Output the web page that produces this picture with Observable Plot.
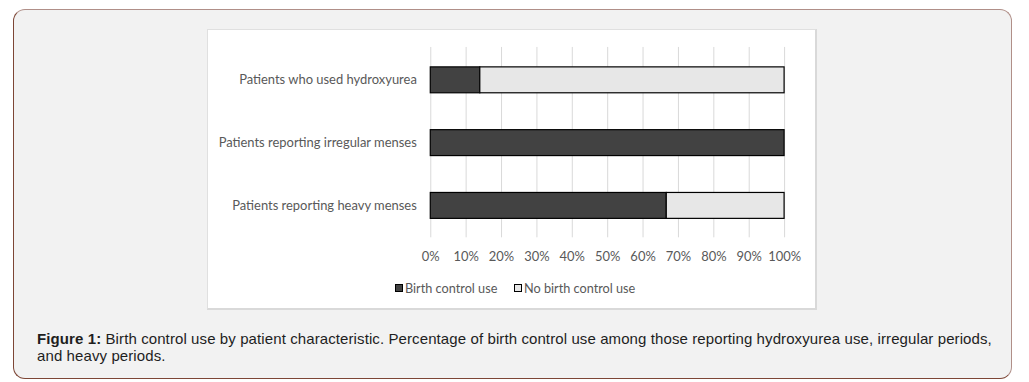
<!DOCTYPE html>
<html>
<head>
<meta charset="utf-8">
<script src="https://cdn.jsdelivr.net/npm/d3@7"></script>
<script src="https://cdn.jsdelivr.net/npm/@observablehq/plot@0.6"></script>
<style>
  html, body { margin: 0; padding: 0; background: #ffffff; width: 1029px; height: 382px; overflow: hidden; }
  #outer { position: absolute; left: 13px; top: 9px; width: 997px; height: 368px;
    background: #f2f2f2; border: 1px solid #b08f88; border-left-color: #7d4636; border-bottom-color: #7d4636;
    border-radius: 12px; }
  #panel { position: absolute; left: 207px; top: 29px; width: 610px; height: 281px; background: #fff;
    border-top: 1px solid #e0e0e0; border-left: 1px solid #e0e0e0; border-right: 2px solid #d9d9d9; border-bottom: 2px solid #d9d9d9; box-sizing: border-box; }
  #chart { position: absolute; left: -1px; top: -1px; }
  #legend { position: absolute; left: 187px; top: 250px; font-family: Lato, sans-serif; font-size: 12.7px; color: #595959; white-space: nowrap; }
  #legend .item { position: absolute; top: 0; display: flex; align-items: center; }
  #legend .sw { width: 6px; height: 6px; border: 1px solid #000; margin-right: 2px; }
  #caption { position: absolute; left: 37px; top: 330px; width: 980px; font-family: "Liberation Sans", Arial, sans-serif;
    font-size: 15px; letter-spacing: 0.1px; line-height: 17px; color: #1e1e1e; white-space: nowrap; }
</style>
</head>
<body>
<div id="outer"></div>
<div id="panel">
  <div id="chart"></div>
  <div id="legend"></div>
</div>
<div id="caption"></div>
<script>
const categories = ["Patients who used hydroxyurea", "Patients reporting irregular menses", "Patients reporting heavy menses"];
const seriesNames = ["Birth control use", "No birth control use"];
const birthControl = [14, 100, 66.7];
const noBirthControl = [86, 0, 33.3];
const seriesColors = ["#424242", "#e7e7e7"];
const xTicks = [0, 10, 20, 30, 40, 50, 60, 70, 80, 90, 100];
const captionBold = "Figure 1:";
const captionLines = ["Birth control use by patient characteristic. Percentage of birth control use among those reporting hydroxyurea use, irregular periods,", "and heavy periods."];

const rows = [];
categories.forEach((c, i) => {
  rows.push({category: c, series: seriesNames[0], value: birthControl[i]});
  rows.push({category: c, series: seriesNames[1], value: noBirthControl[i]});
});

const chart = Plot.plot({
  width: 610,
  height: 240,
  marginLeft: 224,
  marginRight: 31,
  marginTop: 18,
  marginBottom: 31,
  style: {fontFamily: "Lato, sans-serif", fontSize: "13px", color: "#595959", background: "transparent"},
  x: {domain: [0, 100], ticks: xTicks, tickFormat: d => d + "%", label: null, tickSize: 0, tickPadding: 14},
  y: {domain: categories, label: null, tickSize: 0, tickPadding: 14, paddingInner: 0.59, paddingOuter: 0.3},
  color: {domain: seriesNames, range: seriesColors},
  marks: [
    Plot.gridX(xTicks, {stroke: "#d9d9d9", strokeOpacity: 1, strokeWidth: 1}),
    Plot.barX(rows, Plot.stackX({y: "category", x: "value", fill: "series", order: seriesNames, stroke: "#000", strokeWidth: 1.2})),
  ]
});
document.getElementById("chart").appendChild(chart);

const legend = document.getElementById("legend");
const legendLeft = [0, 119];
seriesNames.forEach((name, i) => {
  const item = document.createElement("div");
  item.className = "item";
  item.style.left = legendLeft[i] + "px";
  const sw = document.createElement("div");
  sw.className = "sw";
  sw.style.background = seriesColors[i];
  const t = document.createElement("span");
  t.textContent = name;
  item.appendChild(sw);
  item.appendChild(t);
  legend.appendChild(item);
});

const cap = document.getElementById("caption");
const b = document.createElement("b");
b.textContent = captionBold;
cap.appendChild(b);
cap.appendChild(document.createTextNode(" " + captionLines[0]));
cap.appendChild(document.createElement("br"));
cap.appendChild(document.createTextNode(captionLines[1]));
</script>
</body>
</html>
